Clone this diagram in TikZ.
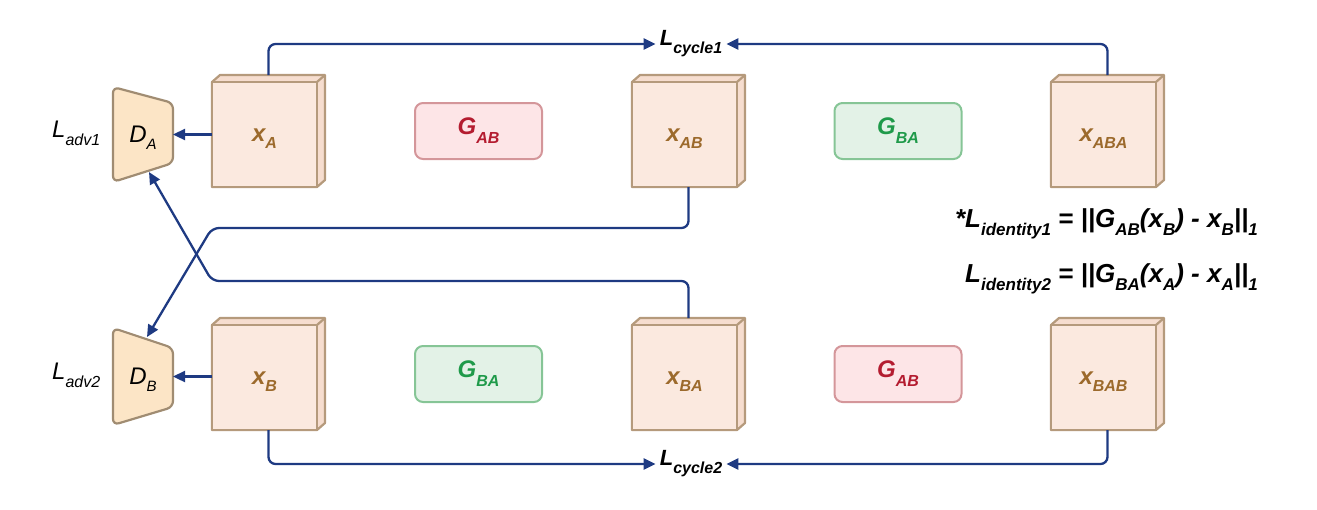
\documentclass[tikz,border=0pt]{standalone}
\usepackage{fontspec}
\setmainfont{Liberation Sans}
\usetikzlibrary{arrows.meta,calc}
\definecolor{cubefill}{HTML}{FBE9DF}
\definecolor{cubeside}{HTML}{F6DDCF}
\definecolor{cubedraw}{HTML}{B59A7C}
\definecolor{xbrown}{HTML}{9C6A2C}
\definecolor{gabfill}{HTML}{FDE5E7}
\definecolor{gabdraw}{HTML}{D4969A}
\definecolor{gabtext}{HTML}{B41C30}
\definecolor{gbafill}{HTML}{E3F2E7}
\definecolor{gbadraw}{HTML}{86C596}
\definecolor{gbatext}{HTML}{1F9A4A}
\definecolor{dfill}{HTML}{FCE5C6}
\definecolor{ddraw}{HTML}{A08C72}
\definecolor{conncol}{HTML}{1E3A82}
\newcommand\sbt[3]{\raisebox{-#1pt}{\fontsize{#2pt}{#2pt}\selectfont #3}}
\newcommand\cubebox[4]{%
  \node[cubebb] (#1) at (#2,#3) {};
  \filldraw[cubeline, fill=cubeside] ($(#1.south west)+(0,-105)$) -- ++(8,-7) -- ++(105,0) -- ++(0,105) -- ++(-8,7) -- (#1.south west) -- cycle;
  \filldraw[cubeline, fill=cubefill] (#1.south west) rectangle ++(105,-105);
  \draw[cubeline] ($(#1.south west)+(105,-105)$) -- ++(8,-7);
  \node[xlab] (#1-t) at ($(#1.south west)+(52.5,-46)$) {#4};
}
\tikzset{
  cubebb/.style={minimum width=113pt, minimum height=112pt, inner sep=0pt, outer sep=0pt},
  cubeline/.style={draw=cubedraw, line width=2.2pt, line join=round},
  xlab/.style={anchor=base, inner sep=0pt, text=xbrown, font=\fontsize{24pt}{24pt}\selectfont\bfseries\itshape},
  gbox/.style={rounded corners=8pt, minimum width=127pt, minimum height=56pt, line width=2pt, inner sep=0pt, font=\fontsize{24pt}{24pt}\selectfont\bfseries\itshape},
  gab/.style={gbox, draw=gabdraw, fill=gabfill, text=gabtext},
  gba/.style={gbox, draw=gbadraw, fill=gbafill, text=gbatext},
  dshape/.style={draw=ddraw, fill=dfill, line width=2.2pt, rounded corners=6pt},
  dbb/.style={minimum width=60pt, minimum height=95pt, inner sep=0pt, outer sep=0pt},
  dlab/.style={anchor=base, inner sep=0pt, font=\fontsize{24pt}{24pt}\selectfont\itshape},
  advlab/.style={anchor=base west, inner sep=0pt, font=\fontsize{24pt}{24pt}\selectfont\itshape},
  cyclab/.style={inner xsep=4pt, inner ysep=0pt, font=\fontsize{22pt}{22pt}\selectfont\bfseries\itshape},
  eqlab/.style={anchor=base east, inner sep=0pt, font=\fontsize{26pt}{26pt}\selectfont\bfseries\itshape},
  conn/.style={draw=conncol, line width=2.3pt, rounded corners=7pt, -{Triangle[length=12pt,width=11pt]}},
}
\begin{document}
\begin{tikzpicture}[x=1pt, y=-1pt]
\useasboundingbox (0,0) rectangle (1317,509);

% discriminators
\filldraw[dshape] (113,87) -- (173,103) -- (173,163) -- (113,182) -- cycle;
\node[dbb] (DA) at (143,134.5) {};
\node[dlab] (DA-t) at (143,142) {D\sbt{7}{15}{A}};
\filldraw[dshape] (113,328) -- (173,348) -- (173,407) -- (113,425) -- cycle;
\node[dbb] (DB) at (143,376.5) {};
\node[dlab] (DB-t) at (143,384) {D\sbt{7}{15}{B}};
\node[advlab] (Ladv1) at (52,137) {L\sbt{8}{16}{adv1}};
\node[advlab] (Ladv2) at (52,379) {L\sbt{8}{16}{adv2}};

% cubes
\cubebox{xA}{268.5}{131}{x\sbt{7}{16}{A}}
\cubebox{xAB}{688.5}{131}{x\sbt{7}{16}{AB}}
\cubebox{xABA}{1107.5}{131}{x\sbt{7}{16}{ABA}}
\cubebox{xB}{268.5}{374}{x\sbt{7}{16}{B}}
\cubebox{xBA}{688.5}{374}{x\sbt{7}{16}{BA}}
\cubebox{xBAB}{1107.5}{374}{x\sbt{7}{16}{BAB}}

% generators
\node[gab] (GAB1) at (478.5,131) {G\sbt{9}{16}{AB}};
\node[gba] (GBA1) at (898,131) {G\sbt{9}{16}{BA}};
\node[gba] (GBA2) at (478.5,374) {G\sbt{9}{16}{BA}};
\node[gab] (GAB2) at (898,374) {G\sbt{9}{16}{AB}};

% loss labels
\node[cyclab] (Lc1) at (691,44) {L\sbt{8}{16}{cycle1}};
\node[cyclab] (Lc2) at (691,464) {L\sbt{8}{16}{cycle2}};
\node[eqlab] (id1) at (1258,227) {*L\sbt{8}{17}{identity1} = ||G\sbt{8}{17}{AB}(x\sbt{8}{17}{B}) - x\sbt{8}{17}{B}||\sbt{8}{17}{1}};
\node[eqlab] (id2) at (1258,282) {L\sbt{8}{17}{identity2} = ||G\sbt{8}{17}{BA}(x\sbt{8}{17}{A}) - x\sbt{8}{17}{A}||\sbt{8}{17}{1}};

% connectors
\coordinate (c1) at (212,228);
\coordinate (c2) at (212,281);
\coordinate (DBin) at (147,337);
\coordinate (DAin) at (149,172);
\draw[conn] (DA.east -| xA.west) -- (DA.east);
\draw[conn] (DB.east -| xB.west) -- (DB.east);
\draw[conn] (xA.north) |- (Lc1.west);
\draw[conn] (xABA.north) |- (Lc1.east);
\draw[conn] (xB.south) |- (Lc2.west);
\draw[conn] (xBAB.south) |- (Lc2.east);
\draw[conn] (xAB.south) |- (c1) -- (DBin);
\draw[conn] (xBA.north) |- (c2) -- (DAin);
\end{tikzpicture}
\end{document}
